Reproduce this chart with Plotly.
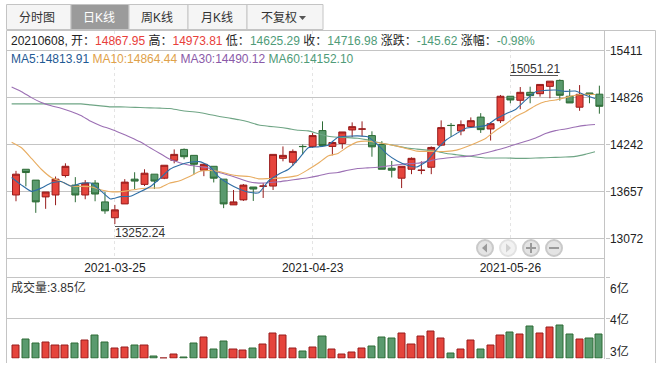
import plotly.graph_objects as go

W, H = 669, 378
FONT = "Liberation Sans, Arial, Noto Sans CJK SC, sans-serif"

# ---------- data ----------
opens = [13614,13934,13799,13590,13614,13856,13737,13614,13762,13528,13331,13503,13811,13746,13873,13823,14045,14181,14107,13922,
         13971,13811,13491,13553,13713,13723,13725,14070,14021,14218,14218,14415,14218,14255,14423,14433,14353,14242,13947,13823,
         13934,13920,13959,14234,14480,14411,14464,14583,14435,14538,14842,14792,14891,14874,14965,15039,14842,14706,14883,14867.95]
highs = [13914,13934,13799,13651,13844,14008,13836,13799,13799,13651,13491,13811,13897,13934,13873,13984,14181,14193,14107,14008,
         13971,13811,13676,13750,13713,13762,14119,14218,14181,14242,14386,14530,14267,14398,14517,14530,14406,14283,14037,13971,
         14082,14033,14218,14542,14509,14542,14579,14632,14521,14858,14842,14957,14961,14989,15030,15051.21,14932,14981,14883,14973.81]
lows = [13536,13721,13392,13442,13487,13832,13524,13561,13536,13380,13252.24,13503,13688,13725,13688,13811,14008,14058,13869,13848,
        13770,13450,13491,13540,13540,13577,13676,14033,13975,14119,14201,14213,14107,14189,14333,14345,14090,13934,13832,13700,
        13873,13873,13873,14222,14337,14357,14447,14386,14291,14509,14755,14681,14755,14837,14817,14788,14759,14661,14755,14625.29]
closes = [13873,13893,13528,13651,13811,13971,13614,13762,13626,13417,13429,13774,13787,13885,13787,13984,14119,14090,13996,13996,
          13823,13503,13528,13737,13688,13725,14119,14107,14156,14216,14353,14230,14267,14398,14464,14435,14213,13934,13922,13971,
          14070,13922,14205,14452,14478,14489,14538,14427,14501,14842,14796,14891,14850,14989,15030,14854,14759,14866,14866,14716.98]
ma5 = [13832,13737,13659,13700,13762,13782,13725,13758,13762,13668,13565,13594,13598,13655,13717,13819,13934,13988,14021,14029,
       13975,13832,13750,13688,13647,13643,13791,13873,13934,14058,14201,14213,14234,14333,14345,14349,14337,14242,14119,14037,
       13984,13963,14037,14181,14304,14378,14447,14460,14480,14562,14624,14681,14796,14899,14915,14920,14903,14907,14858,14813.91]
ma10 = [14271,14201,14070,13934,13832,13782,13725,13721,13717,13680,13655,13655,13672,13692,13700,13704,13762,13791,13844,13906,
        13918,13906,13873,13852,13844,13815,13819,13824,13836,13860,13930,14008,14099,14131,14213,14275,14283,14267,14246,14222,
        14189,14160,14156,14156,14156,14172,14213,14263,14324,14419,14501,14591,14653,14727,14776,14796,14825,14854,14866,14864.44]
ma30 = [14957,14899,14825,14764,14723,14694,14653,14603,14530,14476,14435,14386,14333,14275,14201,14131,14058,14016,13984,13967,
        13947,13893,13860,13819,13778,13762,13766,13778,13795,13811,13828,13852,13881,13893,13922,13943,13951,13959,13975,13988,
        14004,14008,14029,14058,14074,14086,14094,14111,14140,14172,14205,14246,14283,14324,14378,14415,14435,14460,14480,14490.12]
ma60 = [14747,14747,14747,14747,14747,14747,14747,14747,14735,14723,14710,14710,14706,14702,14698,14694,14690,14669,14653,14640,
        14616,14591,14571,14550,14521,14484,14468,14456,14439,14419,14411,14378,14345,14333,14328,14320,14300,14271,14246,14222,
        14197,14185,14172,14156,14131,14115,14099,14086,14074,14074,14074,14070,14070,14074,14078,14082,14086,14094,14119,14152.10]
volume = [3.46,3.67,3.53,3.57,3.46,3.46,3.53,3.64,3.81,3.57,3.35,3.39,3.46,3.46,3.07,3.01,3.14,3.04,3.53,3.74,
          3.32,3.60,3.32,3.28,3.35,3.50,3.89,3.81,3.35,3.25,3.39,3.78,3.32,3.14,3.21,3.35,3.42,3.74,3.71,3.89,
          3.50,3.78,3.96,3.71,3.18,3.32,3.64,3.32,3.46,3.81,3.92,3.85,4.13,3.89,4.10,4.17,3.85,3.67,3.71,3.85]
price_ticks = [15411, 14826, 14242, 13657, 13072]
date_idx = [10, 30, 50]
date_labels = ["2021-03-25", "2021-04-23", "2021-05-26"]
vol_ticks = [5.88, 4.44, 3.0]
vol_labels = ["6亿", "4亿", "3亿"]
tabs = ["分时图", "日K线", "周K线", "月K线", "不复权"]

RED, RED_D = "#e5443c", "#981c1c"
GRN, GRN_D = "#5a9a6e", "#2c6b35"
GRID = "#c4c4c4"
TXT = "#333333"
idx = list(range(len(opens)))
ma_x = [i - 0.44 for i in idx]

def px(x): return x / W
def py(y): return 1 - y / H

fig = go.Figure()
fig.add_trace(go.Candlestick(
    x=idx, open=opens, high=highs, low=lows, close=closes, whiskerwidth=0,
    increasing=dict(fillcolor=RED, line=dict(color=RED_D, width=1)),
    decreasing=dict(fillcolor=GRN, line=dict(color=GRN_D, width=1)),
    xaxis="x", yaxis="y", showlegend=False))
for vals, col in [(ma60, "#6fa585"), (ma30, "#9c70b4"), (ma10, "#e8ad62"), (ma5, "#2f6ea5")]:
    fig.add_trace(go.Scatter(x=ma_x, y=vals, mode="lines", xaxis="x", yaxis="y",
                             line=dict(color=col, width=1.1, shape="spline", smoothing=0.5),
                             showlegend=False))
fig.add_trace(go.Bar(
    x=idx, y=[v - 3.0 for v in volume], base=3.0, width=0.72, xaxis="x2", yaxis="y2", showlegend=False,
    marker=dict(color=[RED if c >= o else GRN for o, c in zip(opens, closes)],
                line=dict(color=[RED_D if c >= o else GRN_D for o, c in zip(opens, closes)], width=1))))

shapes, ann = [], []
def line(x0, y0, x1, y1, color=GRID, width=1, dash=None, layer="below"):
    shapes.append(dict(type="line", xref="paper", yref="paper", x0=px(x0), y0=py(y0), x1=px(x1), y1=py(y1),
                       line=dict(color=color, width=width, dash=dash), layer=layer))
def rect(x0, y0, x1, y1, fill, color=GRID):
    shapes.append(dict(type="rect", xref="paper", yref="paper", x0=px(x0), y0=py(y0), x1=px(x1), y1=py(y1),
                       fillcolor=fill, line=dict(color=color, width=1), layer="below"))
def text(x, y, s, size=12, color=TXT, anchor="left"):
    ann.append(dict(xref="paper", yref="paper", x=px(x), y=py(y), text=s, showarrow=False, xanchor=anchor,
                    yanchor="middle", align="left", font=dict(family=FONT, size=size, color=color),
                    borderpad=0, borderwidth=0))

# tabs
edges = [6.5, 71, 129, 188, 247, 323]
tab_centers = [36.5, 99, 157, 217, 278.5]
for i, t in enumerate(tabs):
    active = i == 1
    rect(edges[i], 4.5, edges[i + 1], 29.5, "#9b9b9b" if active else "#f5f5f5")
    text(tab_centers[i], 18, t, 12, "#ffffff" if active else TXT, "center")
shapes.append(dict(type="path", xref="paper", yref="paper",
                   path=f"M {px(299)} {py(16)} L {px(306)} {py(16)} L {px(302.5)} {py(20)} Z",
                   fillcolor="#555555", line=dict(width=0)))

# frame
line(6.5, 30.5, 655.5, 30.5)
line(6.5, 30.5, 6.5, 363)
line(604.5, 30.5, 604.5, 359)
line(655.5, 30.5, 655.5, 363)
line(6.5, 258.5, 604.5, 258.5)
line(6.5, 277.5, 604.5, 277.5)

# header rows
def sp(s, c): return f'<span style="color:{c}">{s}</span>'
HR, HG = "#e8403a", "#4f9b78"
row1 = ("20210608, 开：" + sp("14867.95", HR) + " 高：" + sp("14973.81", HR) + " 低：" + sp("14625.29", HG)
        + " 收：" + sp("14716.98", HG) + " 涨跌：" + sp("-145.62", HG) + " 涨幅：" + sp("-0.98%", HG))
text(11, 40.5, row1, 12, "#222222")
row2 = (sp("MA5:14813.91", "#1f5a94") + " " + sp("MA10:14864.44", "#e0a24a") + " "
        + sp("MA30:14490.12", "#8a5aa8") + " " + sp("MA60:14152.10", "#4f9b78"))
text(11, 58.5, row2, 12)

# extreme labels
text(510, 69.5, "15051.21", 12, "#333333")
line(510, 75.5, 558, 75.5, "#555555", layer="above")
text(115, 233, "13252.24", 12, "#333333")
line(115, 226.5, 164, 226.5, "#555555", layer="above")

# volume labels
text(610, 288, vol_labels[0], 12, "#222222")
text(610, 319, vol_labels[1], 12, "#222222")
text(610, 351, vol_labels[2], 12, "#222222")
text(11, 287, "成交量:3.85亿", 12, "#333333")

# nav buttons
for cx, fill, ring in [(485, "#e4e4e4", "#c9c9c9"), (508, "#f2f2f2", "#e2e2e2"),
                       (531, "#e4e4e4", "#c9c9c9"), (554, "#e4e4e4", "#c9c9c9")]:
    shapes.append(dict(type="circle", xref="paper", yref="paper", x0=px(cx - 8), x1=px(cx + 8),
                       y0=py(256), y1=py(240), fillcolor=fill, line=dict(color=ring, width=2)))
gl = "#9a9a9a"
def tri(p, col):
    shapes.append(dict(type="path", xref="paper", yref="paper",
                       path="M " + " L ".join(f"{px(a)} {py(b)}" for a, b in p) + " Z",
                       fillcolor=col, line=dict(width=0)))
tri([(482, 248), (487, 243.5), (487, 252.5)], gl)
tri([(511, 248), (506, 243.5), (506, 252.5)], "#d0d0d0")
line(526, 248, 536, 248, gl, 2, layer="above")
line(531, 243, 531, 253, gl, 2, layer="above")
line(549, 248, 559, 248, gl, 2, layer="above")

fig.update_layout(
    width=W, height=H, margin=dict(l=0, r=0, t=0, b=0), autosize=False,
    paper_bgcolor="white", plot_bgcolor="white", boxgap=0.0, bargap=0,
    showlegend=False, shapes=shapes, annotations=ann, hovermode=False,
    font=dict(family=FONT, size=12, color="#222222"),
    xaxis=dict(domain=[px(6.5), px(604.5)], range=[-0.96, 59.52], anchor="y",
               tickmode="array", tickvals=date_idx, ticktext=date_labels, ticks="", ticklen=0,
               showgrid=True, gridcolor="#e4e4e4", griddash="dot", gridwidth=1, zeroline=False,
               showline=False, rangeslider=dict(visible=False), tickfont=dict(size=12, color="#222222")),
    yaxis=dict(domain=[py(258.5), py(30.5)], range=[12824, 15660], side="right", anchor="x",
               tickmode="array", tickvals=price_ticks, ticktext=[str(v) for v in price_ticks],
               ticks="outside", ticklen=4, tickcolor=GRID, showgrid=True, gridcolor=GRID, zeroline=False,
               showline=False, ticklabelstandoff=-2, tickfont=dict(size=12, color="#222222")),
    xaxis2=dict(domain=[px(6.5), px(604.5)], range=[-0.96, 59.52], anchor="y2", showticklabels=False,
                ticks="", showgrid=False, zeroline=False, showline=False),
    yaxis2=dict(domain=[py(358.5), py(277.5)], range=[3.0, 5.88], side="right", anchor="x2",
                tickmode="array", tickvals=vol_ticks, showticklabels=False,
                ticks="outside", ticklen=4, tickcolor=GRID, showgrid=True, gridcolor=GRID, zeroline=False,
                showline=False),
)
fig.write_html("out.html", config={"displayModeBar": False},
               post_script="document.body.style.margin='0';document.documentElement.style.overflow='hidden';")
